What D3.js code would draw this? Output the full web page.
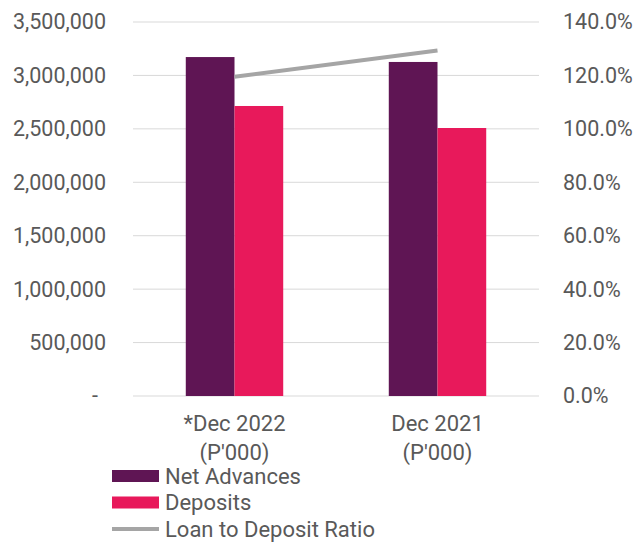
<!DOCTYPE html>
<html>
<head>
<meta charset="utf-8">
<script src="https://cdn.jsdelivr.net/npm/d3@7"></script>
<style>
  body { margin: 0; background: #fff; }
  text { font-family: Roboto, "Noto Sans", sans-serif; fill: #595959; }
</style>
</head>
<body>
<div id="chart"></div>
<script>
// Data
const categories = ["*Dec 2022\n(P'000)", "Dec 2021\n(P'000)"];
const netAdvances = [3172000, 3126000];
const deposits = [2714000, 2508000];
const loanToDeposit = [1.195, 1.293];
const leftTicks = [0, 500000, 1000000, 1500000, 2000000, 2500000, 3000000, 3500000];
const rightTicks = [0, 0.2, 0.4, 0.6, 0.8, 1.0, 1.2, 1.4];

const seriesNames = ["Net Advances", "Deposits"];
const colors = { "Net Advances": "#5f1554", "Deposits": "#e8195b" };

const width = 637, height = 542;
const plot = { left: 133, right: 539, top: 22, bottom: 396 };
const axisFont = "21.5px";
const labelFont = "22px";

const svg = d3.select("#chart")
    .append("svg")
    .attr("width", width)
    .attr("height", height);

// scales
const x0 = d3.scaleBand()
    .domain(categories)
    .range([plot.left, plot.right])
    .paddingInner(0.52)
    .paddingOuter(0.26);

const x1 = d3.scaleBand()
    .domain(seriesNames)
    .range([0, x0.bandwidth()]);

const y = d3.scaleLinear().domain([0, 3500000]).range([plot.bottom, plot.top]);
const yR = d3.scaleLinear().domain([0, 1.4]).range([plot.bottom, plot.top]);

// gridlines
svg.append("g")
    .selectAll("line")
    .data(leftTicks)
    .join("line")
    .attr("x1", plot.left)
    .attr("x2", plot.right)
    .attr("y1", d => y(d))
    .attr("y2", d => y(d))
    .attr("stroke", "#d9d9d9")
    .attr("stroke-width", 1);

// left axis
const fmtLeft = d => d === 0 ? "-" : d3.format(",")(d);
const yAxisL = d3.axisLeft(y).tickValues(leftTicks).tickFormat(fmtLeft).tickSize(0).tickPadding(0);
const gL = svg.append("g")
    .attr("transform", `translate(${plot.left - 27},0)`)
    .call(yAxisL);
gL.select(".domain").remove();
gL.selectAll("text")
    .style("font-size", axisFont)
    .attr("fill", "#595959");
gL.selectAll(".tick").filter(d => d === 0).select("text").attr("dx", -8);

// right axis
const yAxisR = d3.axisRight(yR).tickValues(rightTicks).tickFormat(d3.format(".1%")).tickSize(0).tickPadding(0);
const gR = svg.append("g")
    .attr("transform", `translate(${plot.right + 24},0)`)
    .call(yAxisR);
gR.select(".domain").remove();
gR.selectAll("text")
    .style("font-size", axisFont)
    .attr("fill", "#595959");

// bars
const rows = categories.map((c, i) => ({
    cat: c,
    values: [
        { key: "Net Advances", value: netAdvances[i] },
        { key: "Deposits", value: deposits[i] }
    ]
}));

svg.append("g")
    .selectAll("g")
    .data(rows)
    .join("g")
    .attr("transform", d => `translate(${x0(d.cat)},0)`)
    .selectAll("rect")
    .data(d => d.values)
    .join("rect")
    .attr("x", d => x1(d.key))
    .attr("y", d => y(d.value))
    .attr("width", x1.bandwidth())
    .attr("height", d => y(0) - y(d.value))
    .attr("fill", d => colors[d.key]);

// loan to deposit ratio line
const line = d3.line()
    .x((d, i) => x0(categories[i]) + x0.bandwidth() / 2)
    .y(d => yR(d));

svg.append("path")
    .datum(loanToDeposit)
    .attr("d", line)
    .attr("fill", "none")
    .attr("stroke", "#a5a5a5")
    .attr("stroke-width", 4);

// category labels
const catG = svg.append("g")
    .selectAll("text")
    .data(categories)
    .join("text")
    .attr("x", d => x0(d) + x0.bandwidth() / 2)
    .attr("y", 431)
    .attr("text-anchor", "middle")
    .style("font-size", labelFont);

catG.selectAll("tspan")
    .data(d => d.split("\n"))
    .join("tspan")
    .attr("x", function () { return d3.select(this.parentNode).attr("x"); })
    .attr("dy", (d, i) => i === 0 ? 0 : 29)
    .text(d => d);

// legend
const legendItems = [
    { name: "Net Advances", type: "bar", color: colors["Net Advances"] },
    { name: "Deposits", type: "bar", color: colors["Deposits"] },
    { name: "Loan to Deposit Ratio", type: "line", color: "#a5a5a5" }
];

const legend = svg.append("g")
    .selectAll("g")
    .data(legendItems)
    .join("g")
    .attr("transform", (d, i) => `translate(112, ${476 + i * 26.5})`);

legend.filter(d => d.type === "bar")
    .append("rect")
    .attr("x", 0)
    .attr("y", -6)
    .attr("width", 47)
    .attr("height", 12)
    .attr("fill", d => d.color);

legend.filter(d => d.type === "line")
    .append("line")
    .attr("x1", 0)
    .attr("x2", 47)
    .attr("y1", 0)
    .attr("y2", 0)
    .attr("stroke", d => d.color)
    .attr("stroke-width", 4);

legend.append("text")
    .attr("x", 53)
    .attr("y", 0)
    .attr("dy", "0.35em")
    .style("font-size", labelFont)
    .text(d => d.name);
</script>
</body>
</html>
